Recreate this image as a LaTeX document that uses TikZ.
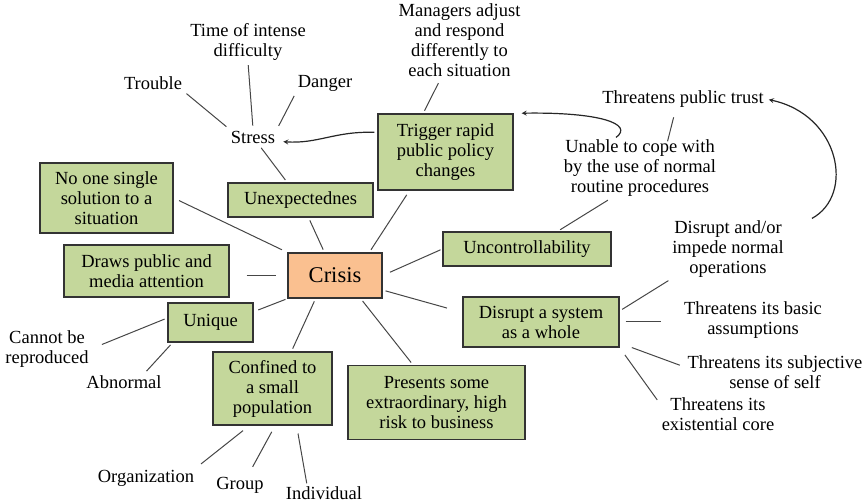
\documentclass[tikz,border=0pt]{standalone}
\usepackage{fontspec}
\setmainfont{LiberationSerif}[Extension=.ttf,UprightFont=*-Regular,BoldFont=*-Bold,ItalicFont=*-Italic,BoldItalicFont=*-BoldItalic]
\usetikzlibrary{arrows}

\definecolor{boxgreen}{RGB}{196,215,155}
\definecolor{boxorange}{RGB}{250,192,144}
\definecolor{linegray}{RGB}{70,70,70}

\begin{document}
\begin{tikzpicture}[x=1pt,y=-1pt]
\tikzstyle{concept}=[rectangle,draw=black!80,line width=1.3pt,fill=boxgreen,align=center,inner sep=0pt,font=\fontsize{18.5}{20}\selectfont]
\tikzstyle{word}=[align=center,inner sep=2pt,font=\fontsize{18.5}{20}\selectfont]
\tikzstyle{link}=[draw=linegray,line width=1pt,shorten <=3pt,shorten >=3pt]

\useasboundingbox (0,0) rectangle (867,502);

% boxes
\node[concept,fill=boxorange,minimum width=94,minimum height=45,font=\fontsize{22.5}{24}\selectfont] (crisis) at (335,275.5) {Crisis};
\node[concept,minimum width=145,minimum height=34] (unexp) at (300.5,200) {Unexpectednes};
\node[concept,minimum width=133,minimum height=70] (nosol) at (106.5,198) {No one single\\solution to a\\situation};
\node[concept,minimum width=165,minimum height=52] (draws) at (146.5,271) {Draws public and\\media attention};
\node[concept,minimum width=85,minimum height=39] (unique) at (210.5,322.5) {Unique};
\node[concept,minimum width=119,minimum height=73] (confined) at (272.5,388.5) {Confined to\\a small\\population};
\node[concept,minimum width=177,minimum height=74] (presents) at (436.5,402.5) {Presents some\\extraordinary, high\\risk to business};
\node[concept,minimum width=156,minimum height=50] (disrupt) at (541,322) {Disrupt a system\\as a whole};
\node[concept,minimum width=168,minimum height=34] (uncontrol) at (527,249) {Uncontrollability};
\node[concept,minimum width=135,minimum height=76] (trigger) at (445.5,152) {Trigger rapid\\public policy\\changes};

% plain texts
\node[word] (stress) at (253,137) {Stress};
\node[word] (trouble) at (153,83) {Trouble};
\node[word] (time) at (248,41.5) {Time of intense\\difficulty};
\node[word] (danger) at (325,83) {Danger};
\node[word] (managers) at (459.5,40) {Managers adjust\\and respond\\differently to\\each situation};
\node[word] (trust) at (683,99) {Threatens public trust};
\node[word] (unable) at (640,168) {Unable to cope with\\by the use of normal\\routine procedures};
\node[word] (andor) at (728,249) {Disrupt and/or\\impede normal\\operations};
\node[word] (basic) at (753,320.5) {Threatens its basic\\assumptions};
\node[word] (subjective) at (775,372) {Threatens its subjective\\sense of self};
\node[word] (existential) at (718,414.5) {Threatens its\\existential core};
\node[word] (cannot) at (47,349) {Cannot be\\reproduced};
\node[word] (abnormal) at (124,382) {Abnormal};
\node[word] (organization) at (146,478) {Organization};
\node[word] (group) at (240,485) {Group};
\node[word] (individual) at (324,493) {Individual};

% plain links
\draw[link] (trouble.south east) -- (stress.north west);
\draw[link] (time.south) -- (stress.north);
\draw[link] (danger.south west) -- (stress.north east);
\draw[link] (stress) -- (unexp);
\draw[link,shorten <=5pt] (managers.-116) -- (trigger.120);
\draw[link] (unexp) -- (crisis);
\draw[link,shorten <=6pt,shorten >=6pt] (nosol.east) -- (crisis.north west);
\draw[link,shorten <=5pt] (trigger.-133) -- (crisis.34);
\draw[link,shorten <=17pt,shorten >=11pt] (crisis.west -| draws.east) -- (crisis.west);
\draw[link,shorten <=5pt,shorten >=2pt] (unique.14) -- (crisis.south west);
\draw[link] (confined.63) -- (crisis.-130);
\draw[link] (presents.122) -- (crisis.-42);
\draw[link,shorten >=16pt] (crisis.-17) -- (disrupt.173);
\draw[link,shorten <=8pt,shorten >=2pt] (crisis.east) -- (uncontrol.west);
\draw[link] (uncontrol.30) -- (unable.-134);
\draw[link,shorten <=-4pt,shorten >=8pt] (unable.47) -- (trust.-125);
\draw[link,shorten >=12pt] (unique.174) -- (cannot.east);
\draw[link] (unique.-152) -- (abnormal.23);
\draw[link,shorten <=8pt,shorten >=6pt] (confined.-122) -- (organization.north east);
\draw[link,shorten <=7pt,shorten >=9pt] (confined.-86) -- (group.51);
\draw[link,shorten <=8pt,shorten >=1pt] (confined.-57) -- (individual.153);
\draw[link,shorten >=2pt] (disrupt.8) -- (andor.south west);
\draw[link,shorten <=6pt,shorten >=21pt] (disrupt.east) -- (disrupt.east -| basic.west);
\draw[link,shorten <=13pt,shorten >=6pt] (disrupt.-15) -- (subjective.177);
\draw[link,shorten <=9pt,shorten >=4pt] (disrupt.south east) -- (existential.169);

% curved arrows
\tikzstyle{flow}=[->,>=stealth,draw=black!85,line width=1.2pt]
\draw[flow,shorten <=3pt,shorten >=6pt] (trigger.164) .. controls (335,131) and (318,144) .. (stress.-10);
\draw[flow,shorten >=8pt] (unable.128) .. controls (634,124) and (600,112) .. (trigger.north east);
\draw[flow,shorten >=3pt] ([xshift=26pt]andor.north east) .. controls (855,195) and (840,115) .. (trust.east);

\end{tikzpicture}
\end{document}
